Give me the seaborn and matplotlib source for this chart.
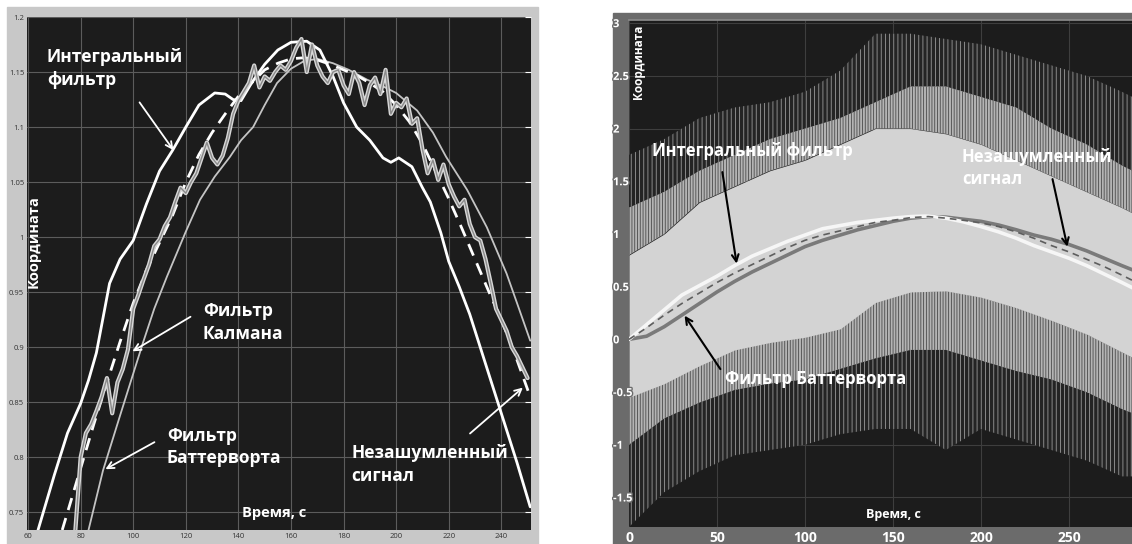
import numpy as np
import pandas as pd
import seaborn as sns
import matplotlib.pyplot as plt
from matplotlib.patches import Rectangle
import matplotlib.patheffects as pe

# ---- left panel data (zoomed part, 60..250 s) ----
x_int_l = [63.8, 70, 75, 80, 83, 86, 91, 95, 100, 105, 110, 115, 120, 125, 131, 135, 138, 141,
           145, 150, 155, 160, 166, 171, 176, 180, 185, 190, 195, 198, 201, 206, 210, 213, 217,
           220, 224, 228, 232, 236, 240, 246, 251]
y_int_l = [0.734, 0.784, 0.822, 0.849, 0.870, 0.895, 0.958, 0.980, 0.997, 1.030, 1.060, 1.079,
           1.100, 1.120, 1.131, 1.130, 1.125, 1.124, 1.140, 1.157, 1.170, 1.177, 1.178, 1.170,
           1.146, 1.122, 1.100, 1.088, 1.072, 1.068, 1.072, 1.064, 1.045, 1.032, 1.004, 0.978,
           0.955, 0.930, 0.900, 0.870, 0.840, 0.795, 0.755]

x_true_l = [73, 80, 85, 90, 95, 100, 105, 110, 115, 120, 125, 130, 135, 140, 145, 150, 155, 160,
            165, 170, 175, 180, 185, 190, 195, 200, 205, 210, 215, 220, 225, 230, 235, 240, 245, 251]
y_true_l = [0.734, 0.790, 0.830, 0.868, 0.905, 0.940, 0.970, 0.995, 1.020, 1.050, 1.075, 1.095,
            1.112, 1.128, 1.140, 1.152, 1.158, 1.162, 1.163, 1.161, 1.157, 1.152, 1.147, 1.140,
            1.132, 1.120, 1.105, 1.085, 1.060, 1.035, 1.008, 0.980, 0.952, 0.925, 0.895, 0.855]

x_butt_l = [83, 88.5, 95, 100, 103.7, 108, 112.8, 120, 125.4, 131, 136.8, 141, 145.6, 150, 154.7,
            160, 165, 170, 176, 182, 189, 195, 200, 208, 214, 219, 227, 234.5, 242, 246, 251]
y_butt_l = [0.734, 0.788, 0.838, 0.876, 0.904, 0.935, 0.964, 1.005, 1.034, 1.055, 1.073, 1.088,
            1.100, 1.120, 1.140, 1.153, 1.160, 1.162, 1.158, 1.152, 1.143, 1.137, 1.131, 1.115,
            1.095, 1.073, 1.043, 1.009, 0.967, 0.940, 0.906]

y_kalman_l = [0.734, 0.800, 0.822, 0.830, 0.842, 0.855, 0.872, 0.840, 0.868, 0.880, 0.898, 0.935,
              0.948, 0.962, 0.975, 0.992, 0.998, 1.010, 1.018, 1.032, 1.045, 1.040, 1.050, 1.058,
              1.072, 1.086, 1.072, 1.066, 1.074, 1.090, 1.112, 1.124, 1.132, 1.140, 1.156, 1.136,
              1.146, 1.142, 1.150, 1.156, 1.152, 1.160, 1.172, 1.180, 1.150, 1.175, 1.156, 1.146,
              1.140, 1.150, 1.152, 1.138, 1.130, 1.150, 1.140, 1.120, 1.138, 1.145, 1.130, 1.152,
              1.112, 1.122, 1.118, 1.126, 1.103, 1.108, 1.080, 1.058, 1.070, 1.052, 1.066, 1.048,
              1.037, 1.028, 1.034, 1.012, 1.000, 0.997, 0.980, 0.958, 0.935, 0.925, 0.915, 0.900,
              0.892, 0.882, 0.872]
x_kalman_l = np.arange(78, 78 + 2 * len(y_kalman_l), 2)

# ---- right panel data (full run 0..286 s) ----
x_r = [0, 10, 20, 30, 40, 50, 60, 70, 80, 90, 100, 110, 120, 130, 140, 150, 160, 170, 180,
       190, 200, 210, 220, 230, 240, 250, 260, 270, 280, 286]
y_true_r = [0.0, 0.11, 0.23, 0.34, 0.44, 0.54, 0.63, 0.71, 0.79, 0.87, 0.94, 0.99, 1.03, 1.07,
            1.11, 1.13, 1.155, 1.165, 1.15, 1.13, 1.105, 1.07, 1.02, 0.96, 0.89, 0.83, 0.76,
            0.69, 0.61, 0.56]
y_int_r = [0.0, 0.14, 0.28, 0.42, 0.51, 0.60, 0.70, 0.79, 0.86, 0.93, 0.99, 1.05, 1.08, 1.11,
           1.13, 1.15, 1.165, 1.17, 1.15, 1.115, 1.07, 1.02, 0.96, 0.89, 0.83, 0.77, 0.70,
           0.62, 0.54, 0.49]
y_butt_r = [0.0, 0.03, 0.12, 0.23, 0.34, 0.45, 0.55, 0.64, 0.72, 0.80, 0.88, 0.94, 0.99, 1.04,
            1.08, 1.12, 1.15, 1.165, 1.16, 1.14, 1.12, 1.085, 1.04, 0.99, 0.95, 0.90, 0.84,
            0.77, 0.70, 0.66]

x_env = [0, 20, 40, 60, 80, 100, 120, 140, 160, 180, 200, 220, 240, 260, 280, 286]
up_max = [1.75, 1.9, 2.1, 2.2, 2.25, 2.35, 2.55, 2.9, 2.9, 2.85, 2.8, 2.7, 2.6, 2.5, 2.35, 2.3]
up_mid = [1.25, 1.4, 1.6, 1.75, 1.9, 2.0, 2.1, 2.25, 2.4, 2.4, 2.3, 2.2, 2.0, 1.85, 1.65, 1.6]
up_sol = [0.8, 1.0, 1.3, 1.45, 1.6, 1.7, 1.85, 2.0, 2.0, 1.95, 1.85, 1.7, 1.55, 1.4, 1.25, 1.2]
lo_sol = [-0.55, -0.42, -0.25, -0.1, -0.03, 0.02, 0.1, 0.35, 0.45, 0.46, 0.4, 0.3, 0.18, 0.05,
          -0.12, -0.17]
lo_mid = [-1.0, -0.75, -0.6, -0.48, -0.42, -0.38, -0.28, -0.18, -0.1, -0.1, -0.2, -0.3, -0.38,
          -0.5, -0.66, -0.7]
lo_min = [-1.78, -1.45, -1.25, -1.1, -1.05, -1.0, -0.9, -0.85, -0.85, -1.05, -0.85, -0.95,
          -1.05, -1.15, -1.3, -1.3]

left_yticks = [0.75, 0.8, 0.85, 0.9, 0.95, 1.0, 1.05, 1.1, 1.15, 1.2]
left_ylabels = ['0.75', '0.8', '0.85', '0.9', '0.95', '1', '1.05', '1.1', '1.15', '1.2']
left_xticks = [60, 80, 100, 120, 140, 160, 180, 200, 220, 240]
right_yticks = [-1.5, -1, -0.5, 0, 0.5, 1, 1.5, 2, 2.5, 3]
right_ylabels = ['-1.5', '-1', '-0.5', '0', '0.5', '1', '1.5', '2', '2.5', '3']
right_xticks = [0, 50, 100, 150, 200, 250]

sns.set_theme(style='dark')
plt.rcParams['font.family'] = ['Open Sans', 'DejaVu Sans']
plt.rcParams['hatch.linewidth'] = 0.6

W, H = 1132, 544
fig = plt.figure(figsize=(W / 100, H / 100), dpi=100)
fig.patch.set_facecolor('white')
fig.patches.append(Rectangle((7 / W, 0), 531 / W, 537 / H, transform=fig.transFigure,
                             color='#c8c8c8', zorder=-5))
fig.patches.append(Rectangle((613 / W, 0), 519 / W, 531 / H, transform=fig.transFigure,
                             color='#6b6b6b', zorder=-5))

# ================= left panel =================
ax1 = fig.add_axes([27 / W, 14 / H, 504 / W, 513 / H])
ax1.set_facecolor('#1c1c1c')
ax1.grid(True, color='#5c5c5c', lw=0.8)
ax1.set_axisbelow(True)

sns.lineplot(x=x_butt_l, y=y_butt_l, ax=ax1, color='#c4c4c4', lw=1.3, sort=False)
sns.lineplot(x=x_int_l, y=y_int_l, ax=ax1, color='white', lw=2.0, sort=False)
sns.lineplot(x=x_true_l, y=y_true_l, ax=ax1, color='white', lw=2.0, sort=False,
             linestyle=(0, (4.5, 3)))
sns.lineplot(x=x_kalman_l, y=y_kalman_l, ax=ax1, color='#8a8a8a', lw=1.0, sort=False,
             path_effects=[pe.Stroke(linewidth=3.0, foreground='#d8d8d8'), pe.Normal()])

ax1.set_xlim(59.6, 251.3)
ax1.set_ylim(0.734, 1.2)
ax1.set_xticks(left_xticks)
ax1.set_xticklabels([str(v) for v in left_xticks])
ax1.set_yticks(left_yticks)
ax1.set_yticklabels(left_ylabels)
ax1.tick_params(axis='both', labelsize=5.5, labelcolor='#333333', length=0, pad=2)
ax1.tick_params(axis='y', right=True, direction='in', length=4, color='white', width=0.8)
for s in ax1.spines.values():
    s.set_visible(False)
ax1.set_xlabel('')
ax1.set_ylabel('')

txt = dict(color='white', fontweight='bold', fontsize=12.5, linespacing=1.35, va='top', ha='left')
ax1.text(67.2, 1.172, 'Интегральный\nфильтр', **txt)
ax1.text(126.5, 0.941, 'Фильтр\nКалмана', **txt)
ax1.text(112.8, 0.828, 'Фильтр\nБаттерворта', **txt)
ax1.text(183.1, 0.812, 'Незашумленный\nсигнал', **txt)
arr_w = dict(arrowstyle='->', color='white', lw=1.3)
ax1.annotate('', xy=(115.9, 1.077), xytext=(101.8, 1.1245), arrowprops=arr_w)
ax1.annotate('', xy=(98.8, 0.895), xytext=(122.7, 0.929), arrowprops=arr_w)
ax1.annotate('', xy=(88.5, 0.788), xytext=(109, 0.815), arrowprops=arr_w)
ax1.annotate('', xy=(249, 0.865), xytext=(227.3, 0.82), arrowprops=arr_w)
ax1.text(0.014, 0.563, 'Координата', transform=ax1.transAxes, rotation=90, color='white',
         fontweight='bold', fontsize=10.5, ha='center', va='center')
ax1.text(0.49, 0.02, 'Время, с', transform=ax1.transAxes, color='white',
         fontweight='bold', fontsize=10.5, ha='center', va='bottom')

# ================= right panel =================
ax2 = fig.add_axes([629 / W, 17 / H, 503 / W, 507 / H])
ax2.set_facecolor('#1c1c1c')
ax2.grid(False)
ax2.set_axisbelow(False)   # tick labels above the noise bands
# grid kept under the noise bands
for v in right_xticks:
    ax2.axvline(v, color='#3e3e3e', lw=0.8, zorder=0.5)
for v in right_yticks:
    ax2.axhline(v, color='#3e3e3e', lw=0.8, zorder=0.5)

# noisy measurement: sparse spikes outside, dense band inside, solid core
ax2.fill_between(x_env, up_mid, up_max, facecolor='#242424', edgecolor='#9a9a9a',
                 hatch='||||', lw=0)
ax2.fill_between(x_env, lo_min, lo_mid, facecolor='#242424', edgecolor='#9a9a9a',
                 hatch='||||', lw=0)
ax2.fill_between(x_env, up_sol, up_mid, facecolor='#b4b4b4', edgecolor='#4a4a4a',
                 hatch='||||||', lw=0)
ax2.fill_between(x_env, lo_mid, lo_sol, facecolor='#b4b4b4', edgecolor='#4a4a4a',
                 hatch='||||||', lw=0)
ax2.fill_between(x_env, lo_sol, up_sol, color='#d3d3d3', lw=0)

sns.lineplot(x=x_r, y=y_butt_r, ax=ax2, color='#7a7a7a', lw=2.6, sort=False)
sns.lineplot(x=x_r, y=y_int_r, ax=ax2, color='#f6f6f6', lw=2.6, sort=False)
sns.lineplot(x=x_r, y=y_true_r, ax=ax2, color='#5e5e5e', lw=1.2, sort=False,
             linestyle=(0, (4, 3)))

ax2.set_xlim(0, 285.8)
ax2.set_ylim(-1.78, 3.03)
ax2.set_xticks(right_xticks)
ax2.set_xticklabels([str(v) for v in right_xticks])
ax2.set_yticks(right_yticks)
ax2.set_yticklabels(right_ylabels)
# y labels start at the frame edge and run slightly into the plot, as in the original
ax2.tick_params(axis='y', labelsize=8, labelcolor='white', length=0, pad=11.5)
ax2.tick_params(axis='x', labelsize=10, labelcolor='white', length=0, pad=3)
for lab in ax2.get_yticklabels():
    lab.set_horizontalalignment('left')
    lab.set_path_effects([pe.withStroke(linewidth=2, foreground='#6b6b6b')])
for lab in ax2.get_xticklabels() + ax2.get_yticklabels():
    lab.set_fontweight('bold')
for s in ax2.spines.values():
    s.set_visible(False)
ax2.spines['top'].set_visible(True)
ax2.spines['top'].set_color('#8a8a8a')
ax2.set_xlabel('')
ax2.set_ylabel('')

txt2 = dict(color='white', fontweight='bold', fontsize=12, linespacing=1.3, va='top', ha='left')
ax2.text(13.1, 1.87, 'Интегральный фильтр', **txt2)
ax2.text(54.5, -0.29, 'Фильтр Баттерворта', **txt2)
ax2.text(189.2, 1.82, 'Незашумленный\nсигнал', **txt2)
arr_k = dict(arrowstyle='->', color='black', lw=1.5)
ax2.annotate('', xy=(61.4, 0.693), xytext=(52.8, 1.613), arrowprops=arr_k)
ax2.annotate('', xy=(30.7, 0.247), xytext=(52.8, -0.304), arrowprops=arr_k)
ax2.annotate('', xy=(249.4, 0.854), xytext=(240.3, 1.546), arrowprops=arr_k)
ax2.text(0.018, 0.917, 'Координата', transform=ax2.transAxes, rotation=90, color='white',
         fontweight='bold', fontsize=8.5, ha='center', va='center')
ax2.text(0.525, 0.012, 'Время, с', transform=ax2.transAxes, color='white',
         fontweight='bold', fontsize=9, ha='center', va='bottom')

fig.savefig('out.png', dpi=100)
